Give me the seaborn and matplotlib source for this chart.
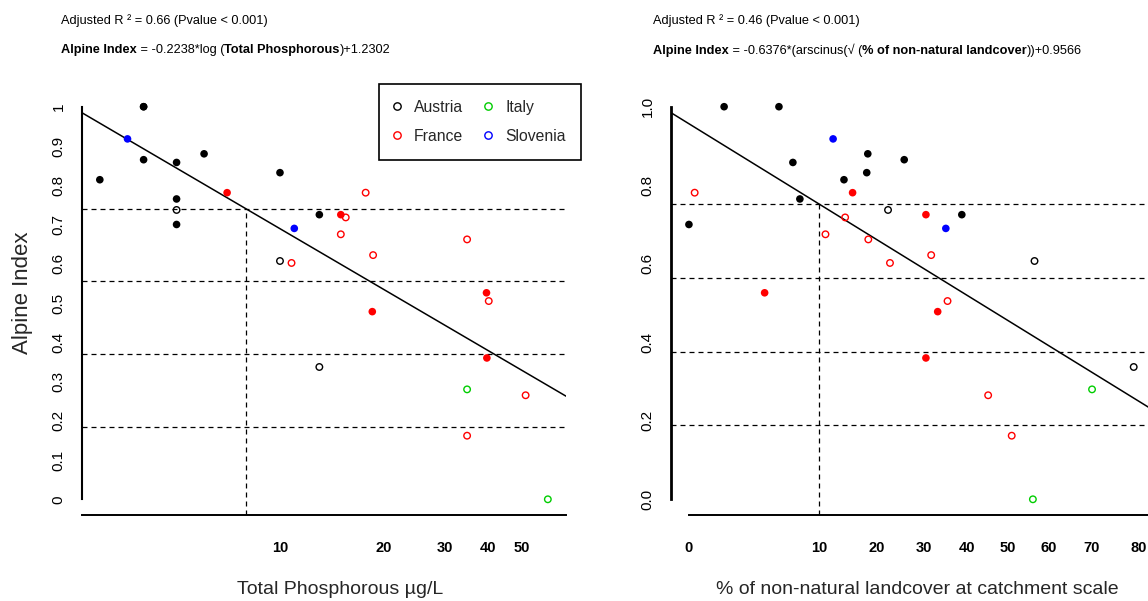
import numpy as np
import pandas as pd
import matplotlib
matplotlib.use("Agg")
import matplotlib.pyplot as plt
import seaborn as sns
from matplotlib.lines import Line2D
from matplotlib.offsetbox import TextArea, HPacker, AnchoredOffsetbox
from matplotlib.ticker import NullLocator

# ---------------- data ----------------
country = ["Austria", "Slovenia", "Austria", "Austria", "Austria", "Austria", "Austria", "Austria",
           "Austria", "Austria", "France", "Austria", "Slovenia", "Austria", "France", "Austria",
           "France", "France", "France", "France", "France", "France", "France", "France", "France",
           "Austria", "France", "Italy", "France", "France", "Italy"]
filled = [1, 1, 1, 1, 1, 1, 1, 1, 0, 1,
          1, 1, 1, 0, 0, 1, 1, 0, 0, 0,
          0, 1, 0, 1, 0, 0, 1, 0, 0, 0, 0]
alpine_index = [0.814, 0.918, 1.0, 1.0, 0.865, 0.858, 0.880, 0.765, 0.737, 0.700,
                0.781, 0.832, 0.690, 0.607, 0.602, 0.725, 0.725, 0.718, 0.675, 0.781,
                0.622, 0.478, 0.662, 0.526, 0.505, 0.337, 0.360, 0.280, 0.265, 0.162, 0.0]
total_p = [3.01, 3.62, 4.03, 4.03, 4.03, 5.02, 6.03, 5.02, 5.02, 5.02,
           7.03, 10.0, 11.0, 10.0, 10.8, 13.0, 15.0, 15.5, 15.0, 17.7,
           18.6, 18.5, 34.8, 39.6, 40.2, 13.0, 39.7, 34.8, 51.4, 34.8, 59.6]
landcover = [13.9, 12.1, 0.75, 4.84, 25.6, 6.42, 18.2, 7.29, 22.2, 0.0,
             15.4, 18.0, 35.0, 56.6, 22.6, 38.8, 30.4, 14.1, 10.9, 0.02,
             31.6, 33.1, 18.3, 3.44, 35.4, 79.1, 30.4, 70.2, 45.2, 51.0, 56.2]

countries = ["Austria", "France", "Italy", "Slovenia"]
country_colors = ["#000000", "#FF0000", "#00CD00", "#0000FF"]

tp_slope, tp_intercept = -0.2238, 1.2046
lc_slope, lc_intercept = -0.6376, 0.9566
tp_classes = [0.74, 0.555, 0.37, 0.185]
lc_classes = [0.752, 0.564, 0.376, 0.188]

tp_ticks = [10, 20, 30, 40, 50, 60]
tp_ticklabels = ["10", "20", "30", "40", "50", ""]
lc_ticks = [0, 10, 20, 30, 40, 50, 60, 70, 80]
lc_ticklabels = ["0", "10", "20", "30", "40", "50", "60", "70", "80"]
left_yticks = [0, 0.1, 0.2, 0.3, 0.4, 0.5, 0.6, 0.7, 0.8, 0.9, 1.0]
left_yticklabels = ["0", "0.1", "0.2", "0.3", "0.4", "0.5", "0.6", "0.7", "0.8", "0.9", "1"]
right_yticks = [0, 0.2, 0.4, 0.6, 0.8, 1.0]
right_yticklabels = ["0.0", "0.2", "0.4", "0.6", "0.8", "1.0"]

title1_left = "Adjusted R \u00b2 = 0.66 (Pvalue < 0.001)"
title2_left = [("Alpine Index", True), (" = -0.2238*log (", False),
               ("Total Phosphorous", True), (")+1.2302", False)]
title1_right = "Adjusted R \u00b2 = 0.46 (Pvalue < 0.001)"
title2_right = [("Alpine Index", True), (" = -0.6376*(arscinus(\u221a (", False),
                ("% of non-natural landcover", True), ("))+0.9566", False)]

df = pd.DataFrame({"country": country, "filled": filled, "alpine": alpine_index,
                   "tp": total_p, "lc": landcover})
palette = dict(zip(countries, country_colors))

# ---------------- style ----------------
sns.set_style("white")
FAM = ["Liberation Sans", "DejaVu Sans"]
plt.rcParams["font.family"] = FAM
plt.rcParams["axes.edgecolor"] = "black"

W, H = 1148, 601
fig = plt.figure(figsize=(W / 100, H / 100), dpi=100)


def px_axes(x0, x1, ytop, ybot):
    return fig.add_axes([x0 / W, 1 - ybot / H, (x1 - x0) / W, (ybot - ytop) / H])


ax1 = px_axes(82, 566, 91, 515)
ax2 = px_axes(671, 1155, 91, 515)


def draw_points(ax, xcol):
    f = df[df["filled"] == 1]
    o = df[df["filled"] == 0]
    sns.scatterplot(data=f, x=xcol, y="alpine", hue="country", palette=palette,
                    s=30, linewidth=0, legend=False, ax=ax, zorder=4)
    sns.scatterplot(data=o, x=xcol, y="alpine", hue="country", palette=palette,
                    s=22, linewidth=1.0, legend=False, ax=ax, zorder=4)
    coll = ax.collections[-1]
    fc = coll.get_facecolors()
    coll.set_edgecolors(fc)
    coll.set_facecolors("none")


draw_points(ax1, "tp")
draw_points(ax2, "lc")


def fwd(p):
    p = np.asarray(p, dtype=float)
    return np.sign(p) * np.arcsin(np.sqrt(np.clip(np.abs(p) / 100.0, 0, 1)))


def inv(u):
    u = np.asarray(u, dtype=float)
    return np.sign(u) * 100.0 * np.sin(np.clip(np.abs(u), 0, np.pi / 2)) ** 2


ax1.set_xscale("log")
ax2.set_xscale("function", functions=(fwd, inv))
ax1.set_xlim(2.673, 67.27)
ax2.set_xlim(-0.195, 83.2)
for ax in (ax1, ax2):
    ax.set_ylim(-0.04, 1.04)

dash = dict(color="black", lw=0.9, linestyle=(0, (4.0, 3.2)), zorder=2)

# left panel lines
for b in tp_classes:
    ax1.axhline(b, **dash)
x_cross = np.exp((tp_intercept - tp_classes[0]) / -tp_slope)
ax1.plot([x_cross, x_cross], [-0.04, tp_classes[0]], **dash)
xg = np.geomspace(2.673, 67.27, 200)
ax1.plot(xg, tp_intercept + tp_slope * np.log(xg), color="black", lw=1.1, zorder=3)

# right panel lines
for b in lc_classes:
    ax2.axhline(b, **dash)
u_cross = (lc_intercept - lc_classes[0]) / -lc_slope
p_cross = inv(u_cross)
ax2.plot([p_cross, p_cross], [-0.04, lc_classes[0]], **dash)
pg = np.linspace(-0.195, 83.2, 400)
ax2.plot(pg, lc_intercept + lc_slope * fwd(pg), color="black", lw=1.1, zorder=3)

# axes styling
for ax, xt, xtl, yt, ytl, ylw in ((ax1, tp_ticks, tp_ticklabels, left_yticks, left_yticklabels, 1.5),
                                  (ax2, lc_ticks, lc_ticklabels, right_yticks, right_yticklabels, 2.0)):
    ax.xaxis.set_minor_locator(NullLocator())
    ax.set_xticks(xt)
    ax.set_xticklabels(xtl, fontsize=10.5, fontweight="bold")
    ax.xaxis.set_minor_locator(NullLocator())
    ax.set_yticks(yt)
    ax.set_yticklabels(ytl, fontsize=11)
    plt.setp(ax.get_yticklabels(), rotation=90, va="center")
    ax.tick_params(axis="x", direction="out", length=5.8, width=1.2, pad=13, colors="black")
    ax.tick_params(axis="y", direction="out", length=5.8, width=1.2, pad=6.0, colors="black")
    for s in ("top", "right"):
        ax.spines[s].set_visible(False)
    ax.spines["left"].set_bounds(0, 1)
    ax.spines["left"].set_linewidth(ylw)
    ax.spines["bottom"].set_linewidth(1.4)
    ax.set_ylabel("")
    ax.set_xlabel("")
    ax.set_facecolor("white")

ax2.spines["bottom"].set_bounds(0, 83.2)

ax1.set_xlabel("Total Phosphorous \u00b5g/L", fontsize=14)
ax1.xaxis.label.set_va("center")
ax1.xaxis.set_label_coords((340 - 82) / 484, (515 - 590) / 424)
ax2.set_xlabel("% of non-natural landcover at catchment scale", fontsize=14)
ax2.xaxis.label.set_va("center")
ax2.xaxis.set_label_coords((917 - 671) / 484, (515 - 590) / 424)
ax1.set_ylabel("Alpine Index", fontsize=16)
ax1.yaxis.label.set_va("center")
ax1.yaxis.set_label_coords((22 - 82) / 484, (515 - 293) / 424)

# legend
handles = [Line2D([], [], marker="o", linestyle="", markerfacecolor="none",
                  markeredgecolor=c, markersize=5.3, markeredgewidth=1.0) for c in country_colors]
leg = ax1.legend(handles, countries, ncol=2, loc="upper left",
                 bbox_to_anchor=((379 - 82) / 484, (515 - 84) / 424), borderaxespad=0,
                 frameon=True, fancybox=False, framealpha=1, edgecolor="black",
                 prop={"size": 11.3}, handlelength=0.3, handletextpad=0.93,
                 columnspacing=1.44, labelspacing=0.9, borderpad=1.0)
leg.get_frame().set_linewidth(1.2)


def title_line(parts, xpx, ypx, size=9.2):
    areas = [TextArea(t, textprops=dict(fontsize=size,
                                        fontweight="bold" if b else "normal", color="black"))
             for t, b in parts]
    box = HPacker(children=areas, align="baseline", pad=0, sep=0)
    anchored = AnchoredOffsetbox(loc="center left", child=box, pad=0, borderpad=0, frameon=False,
                                 bbox_to_anchor=(xpx / W, 1 - ypx / H),
                                 bbox_transform=fig.transFigure)
    fig.add_artist(anchored)


title_line([(title1_left, False)], 61, 21)
title_line(title2_left, 61, 50)
title_line([(title1_right, False)], 653, 21)
title_line(title2_right, 653, 50)

fig.savefig("out.png", dpi=100)
